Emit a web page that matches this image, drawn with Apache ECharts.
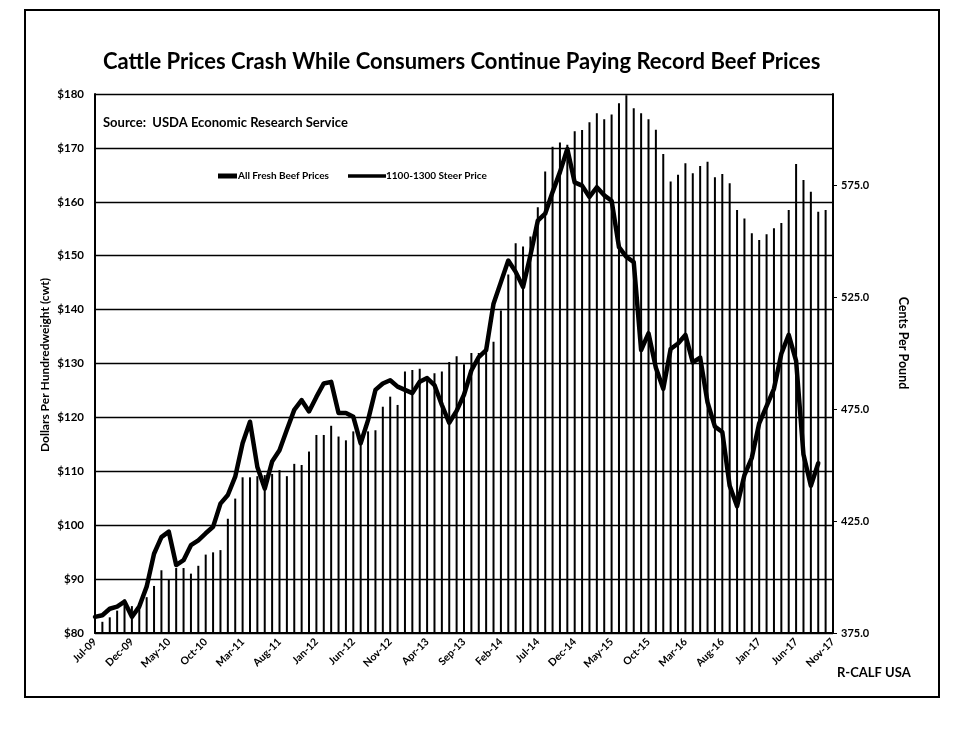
<!DOCTYPE html>
<html>
<head>
<meta charset="utf-8">
<script src="https://cdn.jsdelivr.net/npm/echarts@6/dist/echarts.min.js"></script>
<style>
  html, body { margin: 0; padding: 0; background: #fff; }
  #chart { width: 962px; height: 730px; }
</style>
</head>
<body>
<div id="chart"></div>
<script>
// ---- Data ----
const months = [
  'Jul-09','Aug-09','Sep-09','Oct-09','Nov-09','Dec-09',
  'Jan-10','Feb-10','Mar-10','Apr-10','May-10','Jun-10','Jul-10','Aug-10','Sep-10','Oct-10','Nov-10','Dec-10',
  'Jan-11','Feb-11','Mar-11','Apr-11','May-11','Jun-11','Jul-11','Aug-11','Sep-11','Oct-11','Nov-11','Dec-11',
  'Jan-12','Feb-12','Mar-12','Apr-12','May-12','Jun-12','Jul-12','Aug-12','Sep-12','Oct-12','Nov-12','Dec-12',
  'Jan-13','Feb-13','Mar-13','Apr-13','May-13','Jun-13','Jul-13','Aug-13','Sep-13','Oct-13','Nov-13','Dec-13',
  'Jan-14','Feb-14','Mar-14','Apr-14','May-14','Jun-14','Jul-14','Aug-14','Sep-14','Oct-14','Nov-14','Dec-14',
  'Jan-15','Feb-15','Mar-15','Apr-15','May-15','Jun-15','Jul-15','Aug-15','Sep-15','Oct-15','Nov-15','Dec-15',
  'Jan-16','Feb-16','Mar-16','Apr-16','May-16','Jun-16','Jul-16','Aug-16','Sep-16','Oct-16','Nov-16','Dec-16',
  'Jan-17','Feb-17','Mar-17','Apr-17','May-17','Jun-17','Jul-17','Aug-17','Sep-17','Oct-17','Nov-17'
];

// All Fresh Beef Prices, cents per pound (right axis)
const beefCents = [
  379, 380, 382, 385, 390, 387, 387, 391, 396, 403,
  399, 404, 404, 401.5, 405, 410, 411, 412, 426, 435,
  444.5, 444.5, 445, 445.5, 446, 447.7, 445, 450.5, 450, 456,
  463.4, 463.4, 467.5, 462.7, 461, 465, 460.5, 465, 465.5, 476,
  480.5, 476.8, 491.7, 492.4, 493, 489.5, 491, 491.7, 496, 498.5,
  495, 500, 500, 502, 505, 519, 535, 549, 547.5, 552,
  565, 581, 592, 594, 593, 599, 599.5, 603, 607, 604.3,
  606.5, 611.5, 615, 609.2, 607, 604.3, 599.6, 588.8, 576.5, 579.5,
  584.7, 580.2, 583.5, 585.4, 578.4, 579.9, 575.8, 563.8, 560, 553.4,
  550.4, 553, 555.7, 558, 563.8, 584.4, 577.2, 572, 563, 563.8,
  564
];

// 1100-1300 Steer Price, dollars per cwt (left axis)
const steerPrice = [
  83.0, 83.3, 84.5, 84.9, 85.8, 83.0, 84.9, 88.6, 94.7, 97.8,
  98.8, 92.6, 93.5, 96.3, 97.2, 98.5, 99.7, 104.0, 105.6, 109.0,
  115.2, 119.2, 110.8, 106.8, 111.8, 113.9, 117.7, 121.4, 123.2, 121.1,
  123.8, 126.3, 126.6, 120.8, 120.8, 120.1, 115.2, 119.5, 125.1, 126.3,
  126.9, 125.7, 125.1, 124.5, 126.6, 127.3, 126.0, 122.3, 119.0, 121.2,
  124.2, 128.7, 131.2, 132.5, 141.1, 145.1, 149.1, 147.0, 144.2, 150.1,
  156.5, 157.8, 161.8, 165.5, 169.8, 163.6, 163.0, 160.9, 162.7, 161.2,
  160.2, 151.6, 149.8, 148.8, 132.5, 135.6, 129.2, 125.3, 132.7, 133.7,
  135.3, 130.2, 131.1, 122.8, 118.3, 117.3, 107.3, 103.5, 109.3, 112.5,
  118.9, 122.1, 125.3, 131.8, 135.3, 130.5, 113.1, 107.3, 111.5, null,
  null
];

const seriesNames = ['All Fresh Beef Prices', '1100-1300 Steer Price'];
const titleText = 'Cattle Prices Crash While Consumers Continue Paying Record Beef Prices';
const sourceText = 'Source:  USDA Economic Research Service';
const leftAxisName = 'Dollars Per Hundredweight (cwt)';
const rightAxisName = 'Cents Per Pound';
const creditText = 'R-CALF USA';

// ---- Chart ----
const FONT = 'Lato, "Open Sans", sans-serif';
const chart = echarts.init(document.getElementById('chart'), null, { renderer: 'canvas' });

const legendText = { fontFamily: FONT, fontSize: 10, fontWeight: 'bold', color: '#000' };

const option = {
  backgroundColor: '#ffffff',
  animation: false,
  textStyle: { fontFamily: FONT, color: '#000' },
  grid: { left: 95, right: 129, top: 94, bottom: 97, containLabel: false },
  legend: [
    {
      data: [{ name: seriesNames[0], icon: 'rect' }],
      left: 218, top: 171, padding: 0,
      itemWidth: 19, itemHeight: 5, itemGap: 0,
      textStyle: Object.assign({ padding: [0, 0, 0, -4] }, legendText)
    },
    {
      data: [{ name: seriesNames[1], icon: 'rect' }],
      left: 348, top: 171, padding: 0,
      itemWidth: 38, itemHeight: 3.5, itemGap: 0,
      textStyle: Object.assign({ padding: [0, 0, 0, -5] }, legendText)
    }
  ],
  xAxis: {
    type: 'category',
    data: months,
    boundaryGap: false,
    axisLine: { show: true, lineStyle: { color: '#000', width: 2 } },
    axisTick: { show: false },
    axisLabel: {
      interval: 4,
      rotate: 45,
      margin: 7,
      color: '#000',
      fontFamily: FONT,
      fontSize: 10.5,
      fontWeight: 'bold'
    },
    splitLine: { show: false }
  },
  yAxis: [
    {
      type: 'value',
      position: 'left',
      min: 80, max: 180, interval: 10,
      axisLine: { show: true, lineStyle: { color: '#000', width: 2 } },
      axisTick: { show: false },
      axisLabel: {
        formatter: v => '$' + v,
        margin: 11,
        color: '#000',
        fontFamily: FONT,
        fontSize: 11.5,
        fontWeight: 'bold'
      },
      splitLine: { show: true, lineStyle: { color: '#000', width: 1.4 } }
    },
    {
      type: 'value',
      position: 'right',
      min: 375, max: 615.6, interval: 50,
      axisLine: { show: true, lineStyle: { color: '#000', width: 2 } },
      axisTick: { show: true, length: 4, inside: false, lineStyle: { color: '#000', width: 1 } },
      axisLabel: {
        formatter: v => Number(v).toFixed(1),
        showMaxLabel: false,
        margin: 8,
        color: '#000',
        fontFamily: FONT,
        fontSize: 11,
        fontWeight: 'bold'
      },
      splitLine: { show: false }
    }
  ],
  series: [
    {
      name: seriesNames[0],
      type: 'bar',
      yAxisIndex: 1,
      data: beefCents,
      barWidth: 2,
      itemStyle: { color: '#000' },
      z: 2
    },
    {
      name: seriesNames[1],
      type: 'line',
      yAxisIndex: 0,
      data: steerPrice,
      symbol: 'none',
      showSymbol: false,
      smooth: false,
      connectNulls: false,
      lineStyle: { color: '#000', width: 4.5, join: 'round', cap: 'round' },
      itemStyle: { color: '#000' },
      z: 3
    }
  ],
  graphic: [
    {
      type: 'rect', silent: true, z: -10,
      shape: { x: 25, y: 10, width: 914, height: 687 },
      style: { fill: 'none', stroke: '#000', lineWidth: 2 }
    },
    {
      type: 'text', silent: true, x: 103, y: 62,
      style: { text: titleText, font: 'bold 22px ' + FONT, fill: '#000', textAlign: 'left', textVerticalAlign: 'middle' }
    },
    {
      type: 'text', silent: true, x: 103, y: 123,
      style: { text: sourceText, font: 'bold 13px ' + FONT, fill: '#000', textAlign: 'left', textVerticalAlign: 'middle' }
    },
    {
      type: 'text', silent: true, x: 45, y: 365, rotation: Math.PI / 2,
      style: { text: leftAxisName, font: 'bold 12px ' + FONT, fill: '#000', textAlign: 'center', textVerticalAlign: 'middle' }
    },
    {
      type: 'text', silent: true, x: 903, y: 343, rotation: -Math.PI / 2,
      style: { text: rightAxisName, font: 'bold 12.5px ' + FONT, fill: '#000', textAlign: 'center', textVerticalAlign: 'middle' }
    },
    {
      type: 'text', silent: true, x: 837, y: 673,
      style: { text: creditText, font: 'bold 13px ' + FONT, fill: '#000', textAlign: 'left', textVerticalAlign: 'middle' }
    }
  ]
};

chart.setOption(option);
</script>
</body>
</html>
